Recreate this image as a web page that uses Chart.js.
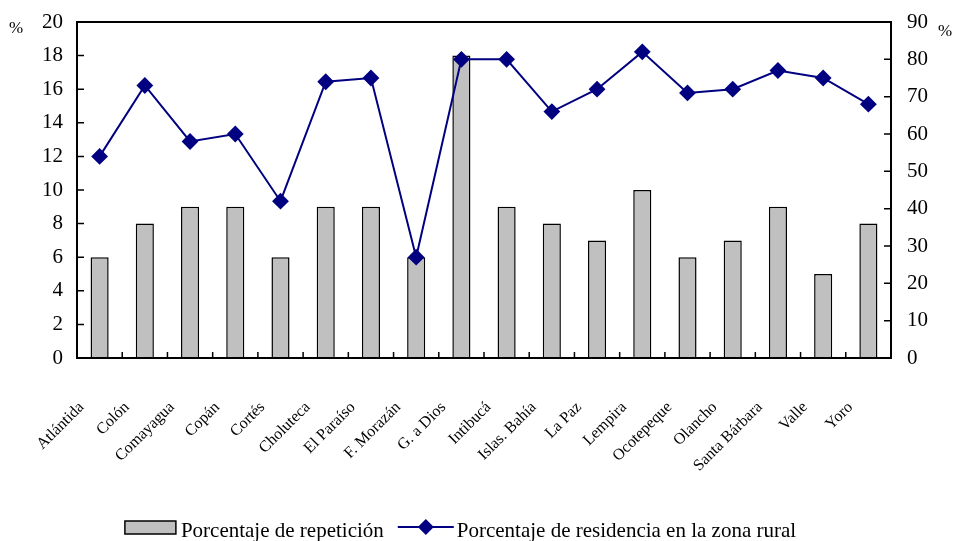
<!DOCTYPE html>
<html>
<head>
<meta charset="utf-8">
<script src="https://cdn.jsdelivr.net/npm/chart.js@4.4.0/dist/chart.umd.min.js"></script>
<style>
  html, body { margin: 0; padding: 0; background: #fff; }
</style>
</head>
<body>
<canvas id="chart" width="955" height="541"></canvas>
<script>
// data
const departamentos = ['Atlántida', 'Colón', 'Comayagua', 'Copán', 'Cortés', 'Choluteca', 'El Paraíso',
    'F. Morazán', 'G. a Dios', 'Intibucá', 'Islas. Bahía', 'La Paz', 'Lempira', 'Ocotepeque',
    'Olancho', 'Santa Bárbara', 'Valle', 'Yoro'];
const repeticion = [6, 8, 9, 9, 6, 9, 9, 6, 18, 9, 8, 7, 10, 6, 7, 9, 5, 8];
const zonaRural = [54, 73, 58, 60, 42, 74, 75, 27, 80, 80, 66, 72, 82, 71, 72, 77, 75, 68];
const leftTicks = [0, 2, 4, 6, 8, 10, 12, 14, 16, 18, 20];
const rightTicks = [0, 10, 20, 30, 40, 50, 60, 70, 80, 90];

const SERIF = '"Liberation Serif", "Times New Roman", serif';
const NAVY = '#000080';

// box, inner tick marks, "%" labels and legend
const extras = {
    id: 'extras',
    afterDraw(chart) {
        const ctx = chart.ctx;
        const a = chart.chartArea;
        const x = chart.scales.x, y = chart.scales.y, y2 = chart.scales.y2;
        ctx.save();
        ctx.strokeStyle = '#000';
        ctx.lineWidth = 2;
        ctx.strokeRect(a.left, a.top, a.right - a.left, a.bottom - a.top);

        ctx.lineWidth = 1.5;
        ctx.beginPath();
        leftTicks.forEach(v => {
            let py = y.getPixelForValue(v);
            ctx.moveTo(a.left, py); ctx.lineTo(a.left + 7, py);
        });
        rightTicks.forEach(v => {
            let py = y2.getPixelForValue(v);
            ctx.moveTo(a.right - 7, py); ctx.lineTo(a.right, py);
        });
        for (let i = 1; i < departamentos.length; i++) {
            let px = (x.getPixelForValue(i - 1) + x.getPixelForValue(i)) / 2;
            ctx.moveTo(px, a.bottom); ctx.lineTo(px, a.bottom - 6);
        }
        ctx.stroke();

        ctx.fillStyle = '#000';
        ctx.font = '17px ' + SERIF;
        ctx.textBaseline = 'middle';
        ctx.textAlign = 'left';
        ctx.fillText('%', 9, a.top + 7);
        ctx.fillText('%', a.right + 47, a.top + 10);

        // legend
        ctx.font = '21px ' + SERIF;
        const t1 = chart.data.datasets[1].label, t2 = chart.data.datasets[0].label;
        const w1 = ctx.measureText(t1).width, w2 = ctx.measureText(t2).width;
        const total = 54 + w1 + 16 + 56 + w2;
        let lx = (a.left + a.right) / 2 - 25 - total / 2;
        const ly = 527;
        ctx.fillStyle = '#c0c0c0';
        ctx.fillRect(lx, ly - 6, 51, 13);
        ctx.lineWidth = 1.5;
        ctx.strokeRect(lx, ly - 6, 51, 13);
        ctx.fillStyle = '#000';
        ctx.fillText(t1, lx + 56, ly + 4);
        lx += 54 + w1 + 16;
        ctx.strokeStyle = NAVY;
        ctx.lineWidth = 2;
        ctx.beginPath(); ctx.moveTo(lx, ly); ctx.lineTo(lx + 56, ly); ctx.stroke();
        ctx.fillStyle = NAVY;
        ctx.beginPath();
        ctx.moveTo(lx + 28, ly - 8); ctx.lineTo(lx + 36, ly);
        ctx.lineTo(lx + 28, ly + 8); ctx.lineTo(lx + 20, ly);
        ctx.closePath(); ctx.fill();
        ctx.fillStyle = '#000';
        ctx.fillText(t2, lx + 59, ly + 4);
        ctx.restore();
    }
};

function fixY(width) {
    return s => { s.width = width; s.paddingTop = 0; s.paddingBottom = 0; };
}

new Chart(document.getElementById('chart'), {
    data: {
        labels: departamentos,
        datasets: [
            {
                type: 'line',
                label: 'Porcentaje de residencia en la zona rural',
                data: zonaRural,
                yAxisID: 'y2',
                borderColor: NAVY,
                borderWidth: 2,
                pointStyle: 'rectRot',
                pointRadius: 7,
                pointBackgroundColor: NAVY,
                pointBorderColor: NAVY,
                tension: 0,
                order: 0
            },
            {
                type: 'bar',
                label: 'Porcentaje de repetición',
                data: repeticion,
                yAxisID: 'y',
                backgroundColor: '#c0c0c0',
                borderColor: '#000',
                borderWidth: 1.5,
                barPercentage: 0.4,
                categoryPercentage: 1,
                order: 1
            }
        ]
    },
    plugins: [extras],
    options: {
        responsive: false,
        animation: false,
        devicePixelRatio: 1,
        layout: { padding: { top: 22, left: 0, right: 0, bottom: 0 } },
        plugins: { legend: { display: false }, tooltip: { enabled: false } },
        scales: {
            x: {
                grid: { display: false, drawTicks: false },
                border: { display: false },
                afterFit: s => { s.height = 183; s.paddingLeft = 0; s.paddingRight = 0; },
                ticks: {
                    color: '#000',
                    font: { family: SERIF, size: 16 },
                    maxRotation: 45, minRotation: 45,
                    autoSkip: false,
                    labelOffset: -18,
                    padding: 40
                }
            },
            y: {
                position: 'left',
                min: 0, max: 20,
                grid: { display: false, drawTicks: false },
                border: { display: false },
                afterFit: fixY(77),
                ticks: {
                    stepSize: 2,
                    color: '#000',
                    font: { family: SERIF, size: 21 },
                    padding: 14
                }
            },
            y2: {
                position: 'right',
                min: 0, max: 90,
                grid: { display: false, drawTicks: false },
                border: { display: false },
                afterFit: fixY(64),
                ticks: {
                    stepSize: 10,
                    color: '#000',
                    font: { family: SERIF, size: 21 },
                    padding: 16
                }
            }
        }
    }
});
</script>
</body>
</html>
